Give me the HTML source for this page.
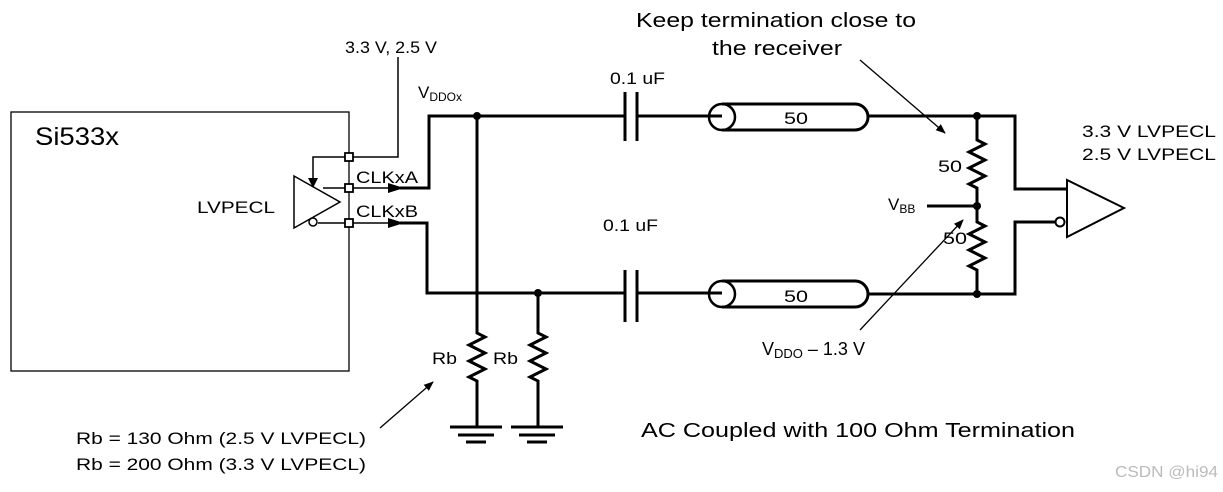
<!DOCTYPE html><html><head><style>body{margin:0;background:#fff}svg{display:block}text{font-family:"Liberation Sans",sans-serif;fill:#000}</style></head><body>
<svg width="1223" height="492" viewBox="0 0 1223 492">
<defs><marker id="a" markerWidth="10" markerHeight="8" refX="9" refY="4" orient="auto" markerUnits="userSpaceOnUse"><path d="M0,0L10,4L0,8z"/></marker></defs>
<g fill="none" stroke="#000">
<rect x="11" y="112" width="338" height="259" stroke-width="1.3"/>
<path d="M398,57V157H313V178" stroke-width="1.5"/>
<path d="M294,176V228L340,202Z" stroke-width="1.5"/>
<path d="M323,188H390M318,223H390" stroke-width="1.5"/>
<circle cx="313" cy="222" r="4" stroke-width="1.5"/>
<g stroke-width="3">
<path d="M400,188H429V116H625M637,116H722"/>
<path d="M400,223H427V293H625M637,293H722"/>
<path d="M625,92V141M637,92V141M625,270V322M637,270V322"/>
<path d="M477,116V333l8,4l-16,8l16,8l-16,8l16,8l-16,8l8,4V427"/>
<path d="M538,293V333l8,4l-16,8l16,8l-16,8l16,8l-16,8l8,4V427"/>
<path d="M450,427H502M458,435H494M466,442H486M511,427H563M519,435H555M527,442H547"/>
<path d="M722,104H855A13,13 0 0 1 855,130H722M722,281H855A13,13 0 0 1 855,307H722"/>
<circle cx="722" cy="117" r="13" stroke-width="2.5"/>
<circle cx="722" cy="294" r="13" stroke-width="2.5"/>
<path d="M868,116H1015V189H1067M868,294H1015V222H1055"/>
<path d="M977,116V140l8,4l-16,8l16,8l-16,8l16,8l-16,8l8,4V222l8,4l-16,8l16,8l-16,8l16,8l-16,8l8,4V294"/>
<path d="M927,206H977"/>
<path d="M1067,180V237L1124,208Z" stroke-width="2"/>
</g>
<circle cx="1060" cy="222" r="4.5" stroke-width="2" fill="#fff"/>
<g stroke-width="1.3" marker-end="url(#a)"><path d="M860,60L945,133"/><path d="M860,330L963,220"/><path d="M380,428L433,382"/></g>
</g>
<path d="M308,178h10l-5,10zM388,183v10l16,-5zM388,218v10l16,-5z"/>
<g fill="#fff" stroke="#000" stroke-width="1.8"><rect x="345" y="153" width="8" height="8"/><rect x="345" y="184" width="8" height="8"/><rect x="345" y="219" width="8" height="8"/></g>
<g><circle cx="477" cy="116" r="4"/><circle cx="538" cy="293" r="4"/><circle cx="977" cy="116" r="4"/><circle cx="977" cy="206" r="4"/><circle cx="977" cy="294" r="4"/></g>
<g font-size="17">
<text x="345" y="53" textLength="92" lengthAdjust="spacingAndGlyphs">3.3 V, 2.5 V</text>
<text x="418" y="98">V<tspan font-size="12" dy="3">DDOx</tspan></text>
<text x="610" y="84" textLength="55" lengthAdjust="spacingAndGlyphs">0.1 uF</text>
<text x="603" y="231" textLength="55" lengthAdjust="spacingAndGlyphs">0.1 uF</text>
<text x="197" y="213" textLength="78" lengthAdjust="spacingAndGlyphs">LVPECL</text>
<text x="356" y="183" textLength="62" lengthAdjust="spacingAndGlyphs">CLKxA</text>
<text x="356" y="217" textLength="62" lengthAdjust="spacingAndGlyphs">CLKxB</text>
<text x="432" y="364" textLength="25" lengthAdjust="spacingAndGlyphs">Rb</text><text x="493" y="364" textLength="25" lengthAdjust="spacingAndGlyphs">Rb</text>
<text x="784" y="124" textLength="24" lengthAdjust="spacingAndGlyphs">50</text><text x="784" y="302" textLength="24" lengthAdjust="spacingAndGlyphs">50</text>
<text x="938" y="172" textLength="24" lengthAdjust="spacingAndGlyphs">50</text><text x="943" y="244" textLength="24" lengthAdjust="spacingAndGlyphs">50</text>
<text x="888" y="210">V<tspan font-size="12" dy="3">BB</tspan></text>
<text x="1082" y="137" textLength="134" lengthAdjust="spacingAndGlyphs">3.3 V LVPECL</text>
<text x="1082" y="160" textLength="134" lengthAdjust="spacingAndGlyphs">2.5 V LVPECL</text>
<text x="762" y="355" font-size="18">V<tspan font-size="13" dy="3">DDO</tspan><tspan dy="-3"> – 1.3 V</tspan></text>
<text x="76" y="444" textLength="290" lengthAdjust="spacingAndGlyphs">Rb = 130 Ohm (2.5 V LVPECL)</text>
<text x="76" y="470" textLength="290" lengthAdjust="spacingAndGlyphs">Rb = 200 Ohm (3.3 V LVPECL)</text>
</g>
<text x="35" y="145" font-size="25" textLength="84" lengthAdjust="spacingAndGlyphs">Si533x</text>
<g font-size="20"><text x="636" y="27" textLength="280" lengthAdjust="spacingAndGlyphs">Keep termination close to</text><text x="712" y="55" textLength="130" lengthAdjust="spacingAndGlyphs">the receiver</text>
<text x="641" y="437" textLength="434" lengthAdjust="spacingAndGlyphs">AC Coupled with 100 Ohm Termination</text></g>
<text x="1115" y="477" font-size="16" textLength="103" lengthAdjust="spacingAndGlyphs" style="fill:#bbb">CSDN @hi94</text>
</svg></body></html>
